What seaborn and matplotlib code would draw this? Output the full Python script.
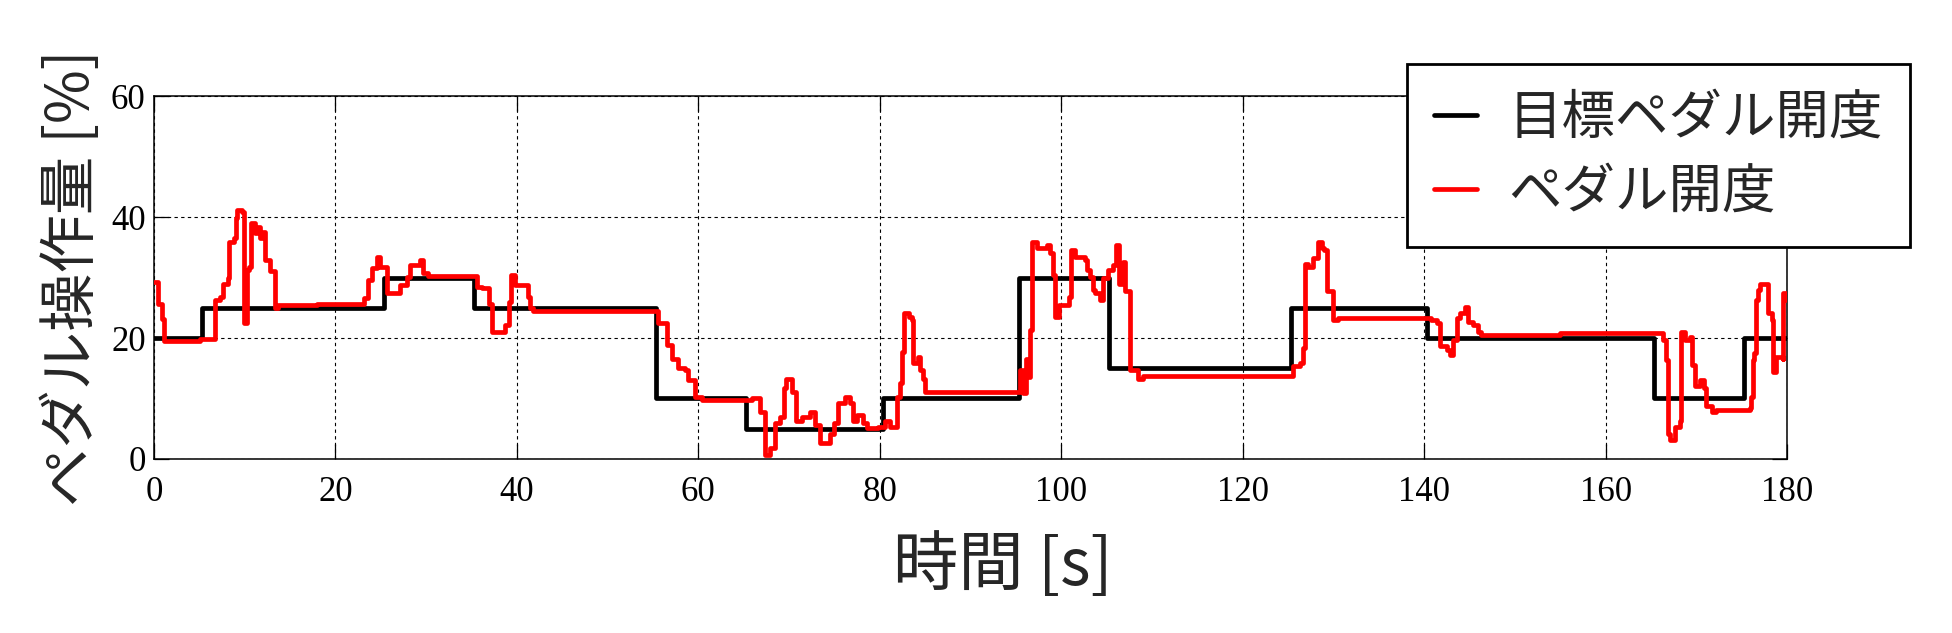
import matplotlib
matplotlib.use("Agg")
import matplotlib.pyplot as plt
import seaborn as sns
import pandas as pd

# ---- data ----
target_t = [0, 5.25, 25.3, 35.3, 55.3, 65.3, 80.3, 95.3, 105.3, 125.3, 140.3, 165.3, 175.3, 180]
target_v = [20, 25, 30, 25, 10, 5, 10, 30, 15, 25, 20, 10, 20, 20]

pedal_t = [0.0, 0.4, 0.9, 1.05, 5.1, 6.7, 7.3, 7.6, 8.2, 8.3, 8.8, 9.05, 9.2, 9.7, 9.95,
           10.2, 10.5, 10.7, 11.15, 11.4, 11.7, 12.05, 12.25, 12.8, 13.35, 13.7, 18.0,
           23.2, 23.6, 24.0, 24.6, 24.9, 25.7, 27.1, 27.9, 28.2, 29.3, 29.7, 30.2,
           35.6, 36.1, 36.9, 37.3, 38.7, 39.1, 39.35, 39.8, 41.2, 41.4, 41.8,
           55.5, 56.5, 57.05, 57.8, 58.5, 58.9, 59.6, 60.4, 65.9, 66.8, 67.4, 67.9,
           68.5, 69.0, 69.4, 69.7, 70.3, 70.8, 71.4, 72.3, 72.9, 73.4, 74.5, 74.9,
           75.4, 76.2, 76.75, 77.1, 77.5, 78.2, 78.6, 79.8, 80.6, 81.1, 81.9, 82.2,
           82.5, 82.7, 83.2, 83.6, 83.7, 84.2, 84.4, 84.8, 85.0, 95.5, 95.8, 96.1,
           96.4, 96.6, 96.8, 97.3, 98.4, 98.8, 99.1, 99.3, 99.8, 100.8, 101.1, 101.5,
           102.6, 102.8, 103.2, 103.45, 103.7, 104.3, 104.6, 105.2, 105.7, 106.0,
           106.4, 106.8, 107.0, 107.6, 108.5, 109.0, 125.5, 126.3, 126.6, 126.85,
           127.2, 127.8, 128.3, 128.7, 129.0, 129.25, 129.9, 130.5, 140.8, 141.4,
           141.7, 142.5, 142.8, 143.2, 143.6, 143.9, 144.5, 144.8, 145.4, 145.9,
           146.3, 155.0, 166.3, 166.7, 166.9, 167.1, 167.6, 168.2, 168.3, 168.7,
           169.3, 169.5, 169.8, 170.4, 170.9, 171.1, 171.7, 172.2, 175.9, 176.0,
           176.2, 176.4, 176.6, 176.8, 177.0, 177.9, 178.3, 178.5, 178.8, 179.5,
           179.6, 179.9]
pedal_v = [29.3, 25.7, 23.2, 19.5, 19.9, 26.3, 26.8, 29.0, 29.9, 35.9, 36.5, 39.8, 41.2, 40.8, 22.4,
           31.2, 31.8, 39.0, 37.3, 38.4, 36.5, 37.6, 32.9, 31.0, 24.9, 25.5, 25.7,
           26.6, 29.6, 31.5, 33.4, 31.8, 27.4, 28.8, 30.1, 32.1, 32.9, 30.7, 30.2,
           28.5, 28.2, 25.7, 21.0, 22.1, 26.0, 30.4, 28.8, 26.8, 24.9, 24.4,
           22.5, 18.8, 16.6, 15.0, 14.7, 13.1, 10.3, 9.75, 10.0, 7.8, 0.7, 1.8,
           5.9, 7.0, 11.7, 13.3, 11.1, 6.2, 7.0, 7.8, 5.6, 2.6, 4.2, 5.9,
           9.2, 10.3, 9.2, 6.2, 7.3, 5.9, 5.1, 5.3, 6.2, 5.3, 10.3, 12.5,
           17.7, 24.1, 23.5, 23.0, 15.8, 16.9, 14.7, 13.3, 11.1, 14.7, 10.9, 16.6,
           13.6, 21.3, 35.9, 34.8, 35.4, 34.0, 30.4, 23.5, 25.5, 26.8, 34.5, 33.4,
           32.9, 31.2, 30.1, 27.9, 27.4, 26.3, 29.9, 31.2, 32.1, 35.4,
           29.0, 32.6, 27.7, 14.7, 13.3, 13.7, 15.3, 15.8, 18.3, 32.3,
           31.8, 33.2, 35.9, 34.8, 34.5, 27.8, 23.0, 23.3, 23.0, 22.4,
           18.6, 18.0, 17.2, 19.7, 23.3, 24.1, 25.2, 22.7, 22.1, 21.0,
           20.5, 20.8, 19.7, 16.4, 4.2, 3.1, 5.3, 6.2, 21.0, 19.7,
           20.2, 15.5, 12.0, 13.1, 11.7, 8.7, 7.8, 8.1, 8.4, 10.3,
           16.4, 17.5, 26.3, 27.9, 29.0, 24.1, 23.0, 14.4, 16.9, 16.6,
           27.4, 26.3]

x_ticks = [0, 20, 40, 60, 80, 100, 120, 140, 160, 180]
y_ticks = [0, 20, 40, 60]
label_target = "目標ペダル開度"
label_pedal = "ペダル開度"
x_label = "時間 [s]"
y_label = "ペダル操作量 [%]"

# ---- style ----
sns.set_style("ticks")
cjk = ["Noto Sans CJK JP", "DejaVu Sans"]
plt.rcParams["font.family"] = cjk

df_target = pd.DataFrame({"t": target_t, "v": target_v})
df_pedal = pd.DataFrame({"t": pedal_t, "v": pedal_v})

fig = plt.figure(figsize=(19.52, 6.33), dpi=100)
ax = fig.add_axes([0.0789, 0.2749, 0.8366, 0.5734])

sns.lineplot(data=df_target, x="t", y="v", ax=ax, color="black", lw=3.4,
             drawstyle="steps-post", estimator=None, sort=False, label=label_target, zorder=3)
sns.lineplot(data=df_pedal, x="t", y="v", ax=ax, color="#ff0000", lw=3.4,
             drawstyle="steps-post", estimator=None, sort=False, label=label_pedal, zorder=4)

ax.set_xlim(0, 180)
ax.set_ylim(0, 60)
ax.set_xticks(x_ticks)
ax.set_yticks(y_ticks)
ax.set_xticklabels([str(v) for v in x_ticks])
ax.set_yticklabels([str(v) for v in y_ticks])

ax.grid(True, color="black", linestyle=(0, (3, 3)), linewidth=0.8)
ax.tick_params(direction="in", length=11, width=0.9, top=True, right=True,
               labelsize=25, colors="black")
ax.tick_params(axis="x", pad=12)
ax.tick_params(axis="y", pad=6)
for lab in ax.get_xticklabels() + ax.get_yticklabels():
    lab.set_fontfamily("Liberation Serif")
for sp in ax.spines.values():
    sp.set_visible(True)
    sp.set_color("black")
    sp.set_linewidth(1.1)

ax.set_xlabel(x_label, fontsize=47, family=cjk)
ax.set_ylabel(y_label, fontsize=42, family=cjk, labelpad=6)
ax.xaxis.set_label_coords(0.52, -0.205)

leg = ax.legend(loc="upper left", bbox_to_anchor=(1407 / 1952, 1 - 64 / 633),
                bbox_transform=fig.transFigure, prop={"family": cjk, "size": 38.5},
                frameon=True, fancybox=False, edgecolor="black", framealpha=1,
                handlelength=0.8, handletextpad=0.6, borderpad=0.5,
                labelspacing=0.36, borderaxespad=0)
leg.get_frame().set_linewidth(2.0)
leg.set_zorder(10)

fig.savefig("out.png", dpi=100)
